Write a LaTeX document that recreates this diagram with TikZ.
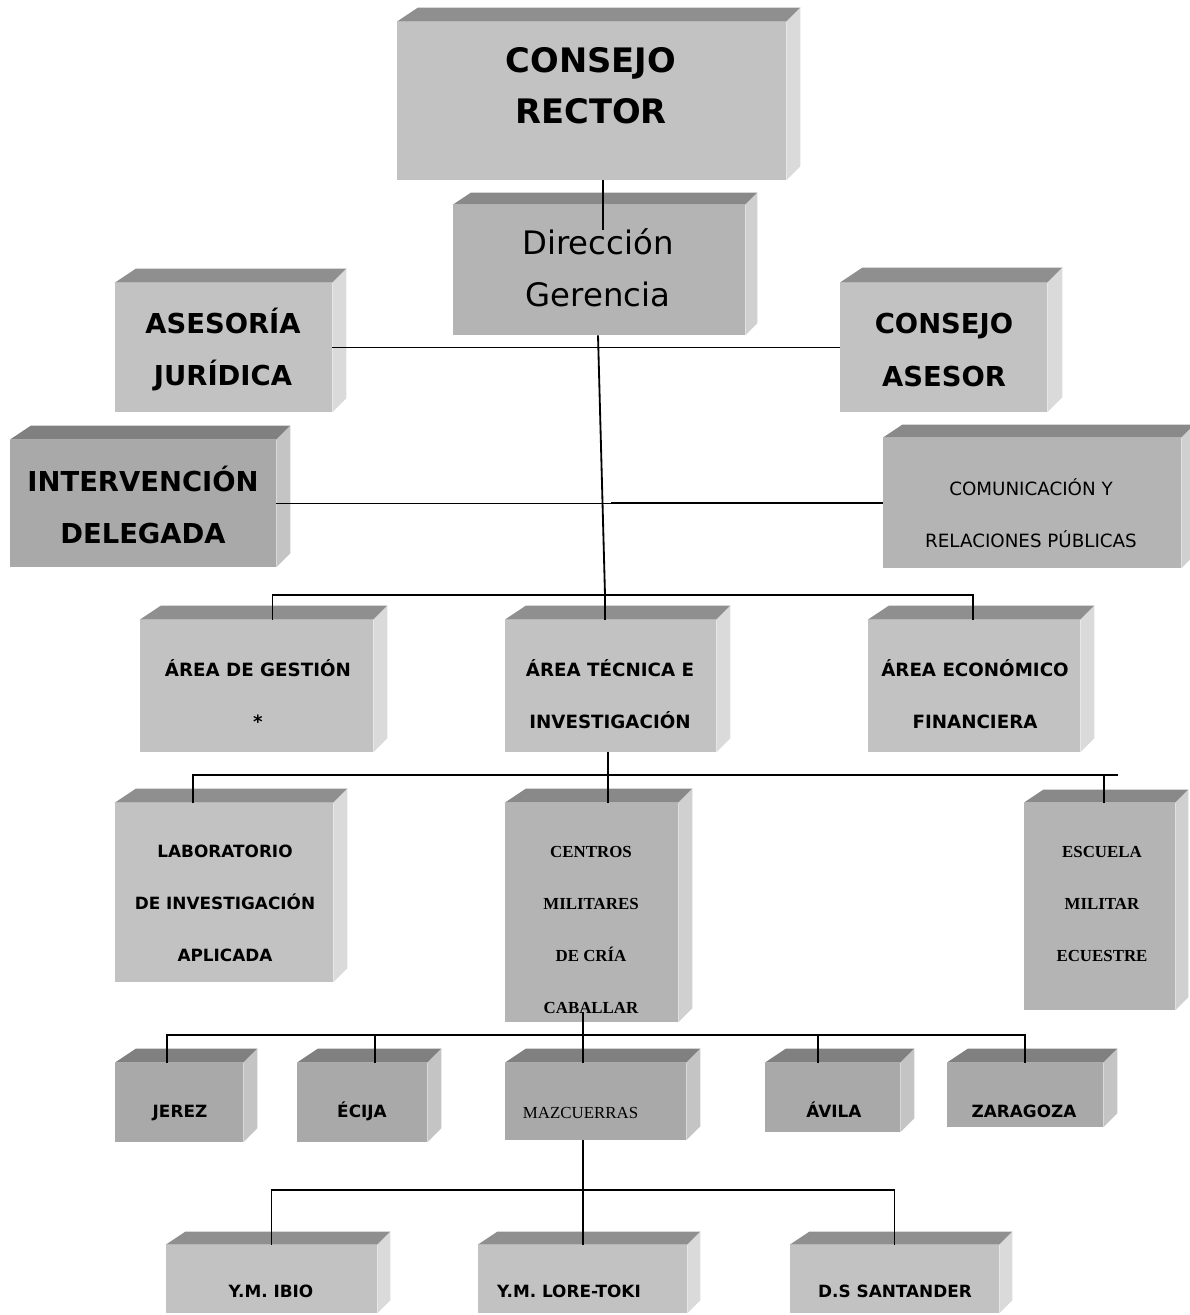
\documentclass[tikz,border=0pt]{standalone}
\usepackage{fontspec}
\setmainfont{DejaVu Sans}
\newfontfamily\timesfont{Liberation Serif}
\usetikzlibrary{positioning,calc}
\definecolor{lightfront}{HTML}{C2C2C2}
\definecolor{lighttop}{HTML}{8F8F8F}
\definecolor{lightside}{HTML}{DADADA}
\definecolor{midfront}{HTML}{B4B4B4}
\definecolor{midtop}{HTML}{898989}
\definecolor{midside}{HTML}{D0D0D0}
\definecolor{darkfront}{HTML}{A9A9A9}
\definecolor{darktop}{HTML}{808080}
\definecolor{darkside}{HTML}{C4C4C4}
\newcommand{\pxu}{0.025cm}
\tikzstyle{cube}=[rectangle, inner sep=0pt, draw=none]
\tikzstyle{link}=[-, line width=1.3pt]
\tikzstyle{hugetxt}=[font=\bfseries\fontsize{24}{36}\selectfont, align=center]
\tikzstyle{dirtxt}=[font=\fontsize{23}{37}\selectfont, align=center]
\tikzstyle{bigtxt}=[font=\bfseries\fontsize{19.5}{37}\selectfont, align=center]
\tikzstyle{medtxt}=[font=\bfseries\fontsize{13}{37}\selectfont, align=center]
\tikzstyle{smalltxt}=[font=\bfseries\fontsize{12}{37}\selectfont, align=center]
\tikzstyle{basetxt}=[font=\bfseries\fontsize{12}{37}\selectfont, anchor=base]
\tikzstyle{plaintxt}=[font=\fontsize{13}{37}\selectfont, align=center]
\tikzstyle{serbtxt}=[font=\timesfont\bfseries\fontsize{12}{37}\selectfont, align=center]
\tikzstyle{sertxt}=[font=\timesfont\fontsize{12}{37}\selectfont, anchor=base west]
% top and right faces of a box: node, colour, depth
\newcommand{\cubefaces}[3]{%
  \fill[#2top] (#1.north west) -- ++({1.5*#3},-#3) -- ([shift={(#3,-#3)}]#1.north east) -- (#1.north east) -- cycle;
  \fill[#2side] (#1.north east) -- ++(#3,-#3) -- ([shift={(#3,-#3)}]#1.south east) -- (#1.south east) -- cycle;
}

\begin{document}
\begin{tikzpicture}[x=0.025cm, y=-0.025cm]
\useasboundingbox (0,0) rectangle (1190,1315);

\node (cr) [cube, fill=lightfront, minimum width=389*\pxu, minimum height=158*\pxu] at (591.5,101) {};
\cubefaces{cr}{light}{14}
\node (crt) [hugetxt] at (591,86) {CONSEJO\\RECTOR};

\node (dg) [cube, fill=midfront, minimum width=292*\pxu, minimum height=130*\pxu] at (599,270) {};
\cubefaces{dg}{mid}{12}
\node (dgt) [dirtxt] at (598,268) {Dirección\\Gerencia};

\node (aj) [cube, fill=lightfront, minimum width=217*\pxu, minimum height=129*\pxu] at (223.5,347.5) {};
\cubefaces{aj}{light}{14}
\node (ajt) [bigtxt] at (223,350) {ASESORÍA\\JURÍDICA};

\node (ca) [cube, fill=lightfront, minimum width=207*\pxu, minimum height=129*\pxu] at (943.5,347.5) {};
\cubefaces{ca}{light}{15}
\node (cat) [bigtxt] at (944,350) {CONSEJO\\ASESOR};

\node (id) [cube, fill=darkfront, minimum width=266*\pxu, minimum height=127*\pxu] at (143,503.5) {};
\cubefaces{id}{dark}{14}
\node (idt) [bigtxt] at (143,505) {INTERVENCIÓN\\DELEGADA};

\node (crp) [cube, fill=midfront, minimum width=298*\pxu, minimum height=130*\pxu] at (1032,503) {};
\cubefaces{crp}{mid}{13}
\node (crpt) [plaintxt] at (1031,513) {COMUNICACIÓN Y\\RELACIONES PÚBLICAS};

% areas
\node (ag) [cube, fill=lightfront, minimum width=233*\pxu, minimum height=132*\pxu] at (256.5,686) {};
\cubefaces{ag}{light}{14}
\node (agt) [medtxt] at (258,694) {ÁREA DE GESTIÓN\\*};

\node (at) [cube, fill=lightfront, minimum width=211*\pxu, minimum height=132*\pxu] at (610.5,686) {};
\cubefaces{at}{light}{14}
\node (att) [medtxt] at (610,694) {ÁREA TÉCNICA E\\INVESTIGACIÓN};

\node (ae) [cube, fill=lightfront, minimum width=212*\pxu, minimum height=132*\pxu] at (974,686) {};
\cubefaces{ae}{light}{14}
\node (aet) [medtxt] at (975,694) {ÁREA ECONÓMICO\\FINANCIERA};

% second level
\node (lab) [cube, fill=lightfront, minimum width=218*\pxu, minimum height=179*\pxu] at (224,892.5) {};
\cubefaces{lab}{light}{14}
\node (labt) [smalltxt] at (225,903) {LABORATORIO\\DE INVESTIGACIÓN\\APLICADA};

\node (cmc) [cube, fill=midfront, minimum width=173*\pxu, minimum height=219*\pxu] at (591.5,912.5) {};
\cubefaces{cmc}{mid}{14}
\node (cmct) [serbtxt] at (591,930) {CENTROS\\MILITARES\\DE CRÍA\\CABALLAR};

\node (eme) [cube, fill=midfront, minimum width=151*\pxu, minimum height=207*\pxu] at (1099.5,906.5) {};
\cubefaces{eme}{mid}{13}
\node (emet) [serbtxt] at (1102,904) {ESCUELA\\MILITAR\\ECUESTRE};

% centres
\node (jz) [cube, fill=darkfront, minimum width=128*\pxu, minimum height=79*\pxu] at (179,1102.5) {};
\cubefaces{jz}{dark}{14}
\node (jzt) [basetxt] at (180,1117) {JEREZ};

\node (ec) [cube, fill=darkfront, minimum width=130*\pxu, minimum height=79*\pxu] at (362,1102.5) {};
\cubefaces{ec}{dark}{14}
\node (ect) [basetxt] at (362,1117) {ÉCIJA};

\node (mz) [cube, fill=darkfront, minimum width=181*\pxu, minimum height=77*\pxu] at (595.5,1101.5) {};
\cubefaces{mz}{dark}{14}
\node (mzt) [sertxt] at (518,1118) {MAZCUERRAS};

\node (av) [cube, fill=darkfront, minimum width=135*\pxu, minimum height=69*\pxu] at (832.5,1097.5) {};
\cubefaces{av}{dark}{14}
\node (avt) [basetxt] at (834,1117) {ÁVILA};

\node (zg) [cube, fill=darkfront, minimum width=156*\pxu, minimum height=64*\pxu] at (1025,1095) {};
\cubefaces{zg}{dark}{14}
\node (zgt) [basetxt] at (1024,1117) {ZARAGOZA};

% yeguadas
\node (ymi) [cube, fill=lightfront, minimum width=211*\pxu, minimum height=68*\pxu] at (271.5,1279) {};
\cubefaces{ymi}{light}{13}
\node (ymit) [basetxt] at (271,1297) {Y.M. IBIO};

\node (ylt) [cube, fill=lightfront, minimum width=209*\pxu, minimum height=68*\pxu] at (582.5,1279) {};
\cubefaces{ylt}{light}{13}
\node (yltt) [basetxt] at (569,1297) {Y.M. LORE-TOKI};

\node (dss) [cube, fill=lightfront, minimum width=209*\pxu, minimum height=68*\pxu] at (894.5,1279) {};
\cubefaces{dss}{light}{13}
\node (dsst) [basetxt] at (895,1297) {D.S SANTANDER};

% connectors
\coordinate (b1) at (605,595);
\coordinate (b2) at (608,775);
\coordinate (b2e) at (1118,775);
\coordinate (b3) at (583,1035);
\coordinate (b4) at (583,1190);
\draw[link] ([xshift=11.5*\pxu]cr.south) -- ++(0,50);
\draw[link] ([xshift=-1*\pxu]dg.south) -- (b1);
\draw[link] (aj.east) -- (ca.west);
\draw[link] (id.east) -- ++(349,0);
\draw[link] (crp.west) -- ++(-272,0);
\draw[link] ([xshift=16*\pxu]ag.north) |- (b1) -| ([xshift=-1*\pxu]ae.north);
\draw[link] (b1) -- (at.north -| b1);
\draw[link] (at.south -| b2) -- (cmc.north -| b2);
\draw[link] ([xshift=-31*\pxu]lab.north) |- (b2e);
\draw[link] ([xshift=4.5*\pxu]eme.north) |- (b2e);
\draw[link] ([shift={(-8.5,-10)}]cmc.south) -- (mz.north -| b3);
\draw[link] ([xshift=-12*\pxu]jz.north) |- (b3);
\draw[link] ([xshift=13*\pxu]ec.north) |- (b3);
\draw[link] ([xshift=-14.5*\pxu]av.north) |- (b3);
\draw[link] (zg.north) |- (b3);
\draw[link] (mz.south -| b4) -- (ylt.north -| b4);
\draw[link] (ymi.north) |- (b4) -| (dss.north);

\end{tikzpicture}
\end{document}
